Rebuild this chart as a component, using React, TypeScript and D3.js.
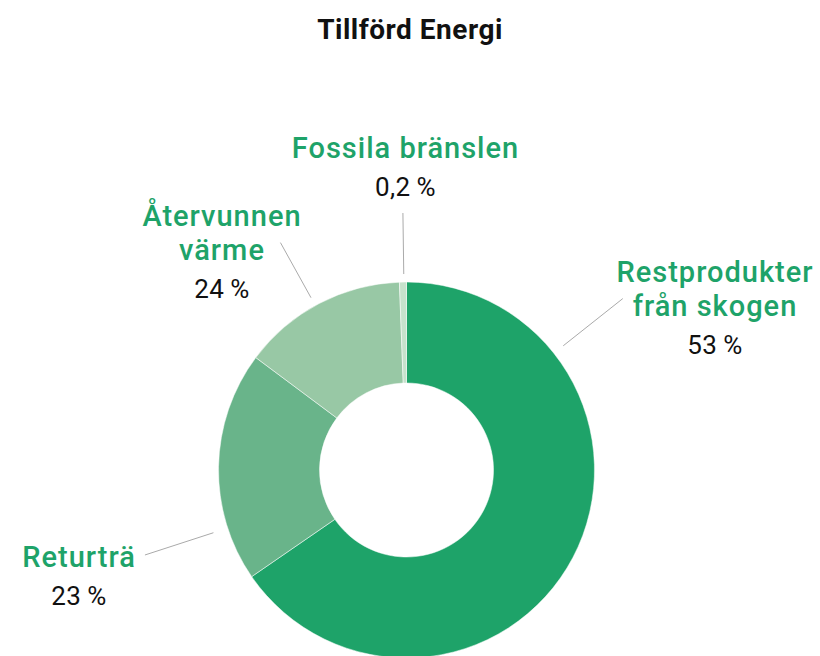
import React from "react";
import * as d3 from "d3";

const categories = ["Restprodukter från skogen", "Returträ", "Återvunnen värme", "Fossila bränslen"];
// slice sizes as drawn in the picture (share of the ring)
const sliceShares = [65.4, 19.8, 14.2, 0.6];
const percentLabels = ["53\u2009%", "23\u2009%", "24\u2009%", "0,2\u2009%"];
const labelLines = [["Restprodukter", "från skogen"], ["Returträ"], ["Återvunnen", "värme"], ["Fossila bränslen"]];
const colors = ["#1ea369", "#69b48a", "#98c8a5", "#c6e2cc"];

const W = 820;
const H = 656;
const cx = 406.5;
const cy = 470;
const outerR = 188;
const innerR = 87;

// where each label sits and at which angle its leader line points (degrees from top)
const labelLayout = [
  { x: 715, y: 282, leaderAngle: 51.6, r0: 200, r1: 276 },
  { x: 79, y: 567, leaderAngle: 252, r0: 203, r1: 275 },
  { x: 222, y: 226, leaderAngle: 331, r0: 197, r1: 260 },
  { x: 405.5, y: 158, leaderAngle: 359.2, r0: 196, r1: 257 },
];

const green = "#1ea369";

export default function App() {
  const pie = d3
    .pie<number>()
    .sort(null)
    .value((d) => d);
  const arcs = pie(sliceShares);
  const arc = d3.arc<d3.PieArcDatum<number>>().innerRadius(innerR).outerRadius(outerR);

  const polar = (deg: number, r: number) => {
    const a = (deg * Math.PI) / 180;
    return [cx + r * Math.sin(a), cy - r * Math.cos(a)];
  };

  return (
    <svg width={W} height={H} style={{ position: "absolute", left: 0, top: 0 }} fontFamily="Roboto, sans-serif">
      <rect width={W} height={H} fill="#fff" />
      <text x={410} y={39} textAnchor="middle" fontSize={28} fontWeight={700} letterSpacing={0.5} fill="#111">
        Tillförd Energi
      </text>
      <g transform={`translate(${cx},${cy})`}>
        {arcs.map((a, i) => (
          <path key={categories[i]} d={arc(a) || ""} fill={colors[i]} stroke="#fff" strokeWidth={0.5} />
        ))}
      </g>
      {labelLayout.map((l, i) => {
        const [x0, y0] = polar(l.leaderAngle, l.r0);
        const [x1, y1] = polar(l.leaderAngle, l.r1);
        const lines = labelLines[i];
        return (
          <g key={categories[i]}>
            <line x1={x0} y1={y0} x2={x1} y2={y1} stroke="#aaa" strokeWidth={1} />
            {lines.map((t, j) => (
              <text
                key={t}
                x={l.x}
                y={l.y + j * 34}
                textAnchor="middle"
                fontSize={29}
                fontWeight={500}
                letterSpacing={1}
                fill={green}
              >
                {t}
              </text>
            ))}
            <text
              x={l.x}
              y={l.y + (lines.length - 1) * 34 + 38}
              textAnchor="middle"
              fontSize={26}
              letterSpacing={0.5}
              fill="#111"
            >
              {percentLabels[i]}
            </text>
          </g>
        );
      })}
    </svg>
  );
}
